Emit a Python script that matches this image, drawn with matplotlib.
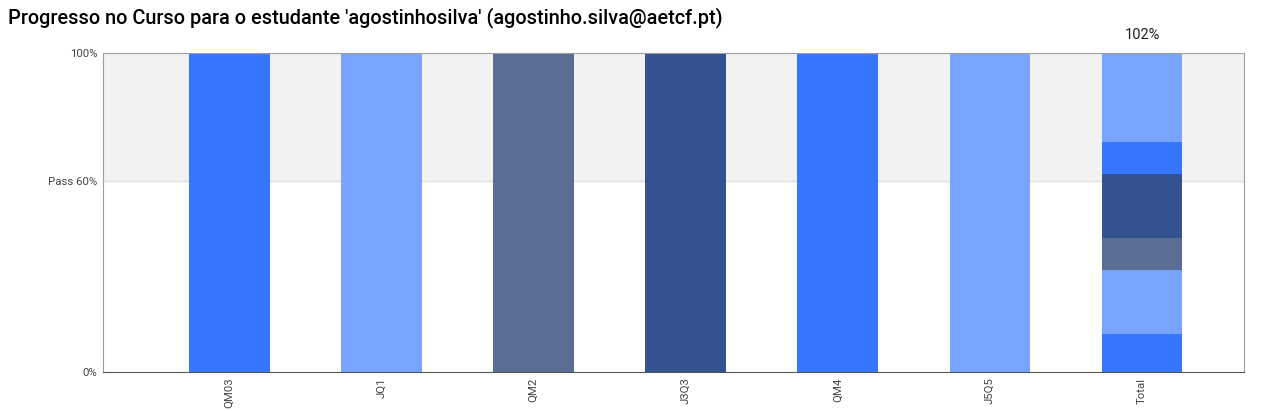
import matplotlib
matplotlib.use("Agg")
import matplotlib.pyplot as plt

courses = ["QM03", "JQ1", "QM2", "J3Q3", "QM4", "J5Q5"]
progress = [100, 100, 100, 100, 100, 100]
weights = [12, 20, 10, 20, 10, 30]
colors = ["#3777FF", "#78A4FF", "#5A6D94", "#33528F", "#3777FF", "#78A4FF"]
total_label = "Total"
pass_mark = 60
ytick_vals = [0, 60, 100]
ytick_labels = ["0%", "Pass 60%", "100%"]

plt.rcParams['font.family'] = ['Roboto', 'DejaVu Sans']
fig = plt.figure(figsize=(12.62, 4.11), dpi=100)
ax = fig.add_axes([103/1262, 39/411, 1141/1262, 319/411])

ax.axhspan(pass_mark, 100, color="#F2F2F2", zorder=0)
ax.axhline(pass_mark, color="#E0E0E0", lw=1, zorder=1)

x = list(range(len(courses)))
w = 0.53
ax.bar(x, progress, width=w, color=colors, zorder=2, edgecolor="none")
bottom = 0
n = len(courses)
for wt, c in zip(weights, colors):
    ax.bar(n, wt, width=w, bottom=bottom, color=c, zorder=2, edgecolor="none")
    bottom += wt
ax.text(n, 105.5, f"{bottom}%", ha="center", va="center", fontsize=10.5, color="#222222", clip_on=False)

ax.set_xlim(-0.83, n + 0.67)
ax.set_ylim(0, 100)
ax.set_xticks(x + [n])
ax.set_xticklabels(courses + [total_label], rotation=90, fontsize=8.2, color="#444444")
ax.set_yticks(ytick_vals)
ax.set_yticklabels(ytick_labels, fontsize=8.2, color="#444444")
ax.tick_params(length=0, pad=4)
for s in ["left", "right", "top"]:
    ax.spines[s].set_color("#9E9E9E")
ax.spines["bottom"].set_color("#555555")

fig.text(8/1262, 1 - 18/411, "Progresso no Curso para o estudante 'agostinhosilva' (agostinho.silva@aetcf.pt)",
         fontsize=14.3, va="center", ha="left", color="#000000", fontweight="medium")

fig.savefig("out.png", dpi=100)
